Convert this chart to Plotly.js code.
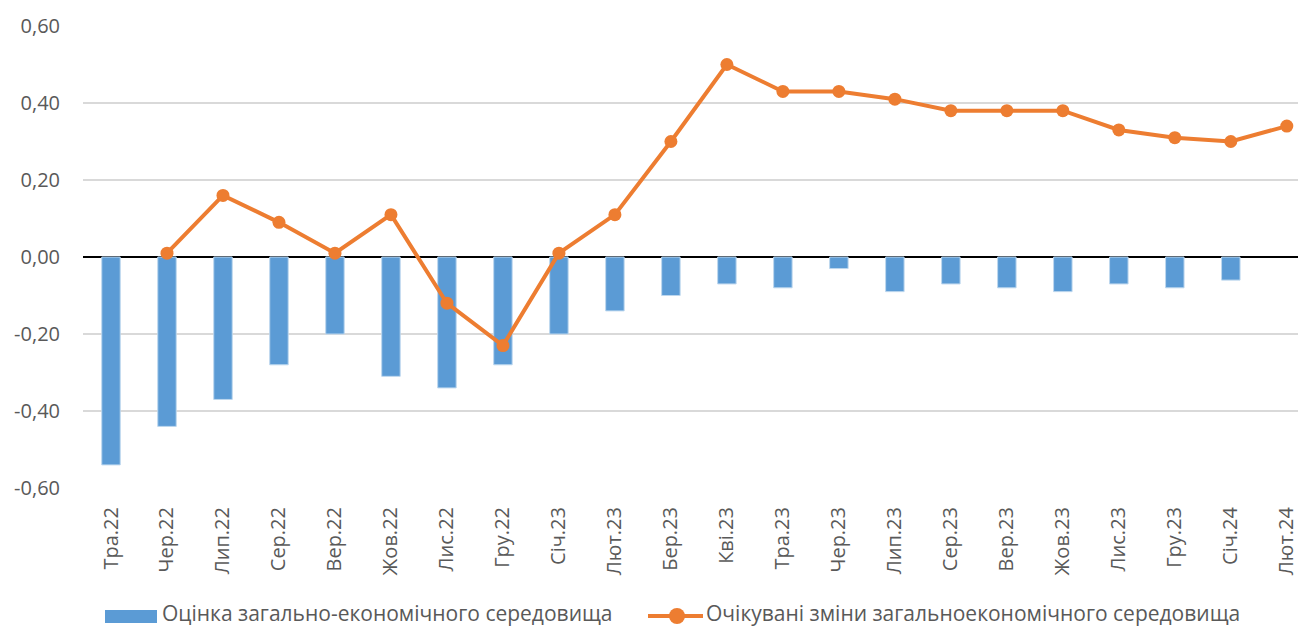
<!DOCTYPE html>
<html><head><meta charset="utf-8">
<script src="https://cdn.plot.ly/plotly-3.0.1.min.js"></script>
<style>body{margin:0;background:#fff}#c{width:1298px;height:628px}</style>
</head><body><div id="c"></div>
<script>
const categories = ["Тра.22","Чер.22","Лип.22","Сер.22","Вер.22","Жов.22","Лис.22","Гру.22","Січ.23","Лют.23","Бер.23","Кві.23","Тра.23","Чер.23","Лип.23","Сер.23","Вер.23","Жов.23","Лис.23","Гру.23","Січ.24","Лют.24"];
const assessment = [-0.54,-0.44,-0.37,-0.28,-0.20,-0.31,-0.34,-0.28,-0.20,-0.14,-0.10,-0.07,-0.08,-0.03,-0.09,-0.07,-0.08,-0.09,-0.07,-0.08,-0.06,null];
const expected = [null,0.01,0.16,0.09,0.01,0.11,-0.12,-0.23,0.01,0.11,0.30,0.50,0.43,0.43,0.41,0.38,0.38,0.38,0.33,0.31,0.30,0.34];
const yTicks = [-0.6,-0.4,-0.2,0,0.2,0.4,0.6];
const yTickLabels = ["-0,60","-0,40","-0,20","0,00","0,20","0,40","0,60"];
const names = ["Оцінка загально-економічного середовища","Очікувані зміни загальноекономічного середовища"];

const W = 1298, H = 628;
const mL = 83, mR = 0, mT = 26, mB = 140;
const plotH = H - mT - mB;
const ppx = x => (x - mL) / (W - mL - mR);
const ppy = y => (H - mB - y) / plotH;

const BLUE = "#5b9bd5", ORANGE = "#ed7d31", TXT = "#595959";

const traces = [
 {type:"bar", x:categories, y:assessment, name:names[0], width:0.33, showlegend:false,
  marker:{color:BLUE, line:{color:"#bdd7ee", width:1}}},
 {type:"scatter", mode:"lines+markers", x:categories, y:expected, name:names[1], connectgaps:true, showlegend:false,
  line:{color:ORANGE, width:4}, marker:{color:ORANGE, size:13}}
];

// custom legend (pixel layout)
const legY = 616, legTxtY = 613;
const shapes = [
 {type:"rect", xref:"paper", yref:"paper", x0:ppx(105), x1:ppx(157), y0:ppy(623), y1:ppy(610), fillcolor:BLUE, line:{width:0}},
 {type:"line", xref:"paper", yref:"paper", x0:ppx(648), x1:ppx(703), y0:ppy(legY), y1:ppy(legY), line:{color:ORANGE, width:4}},
 {type:"circle", xref:"paper", yref:"paper", x0:ppx(669), x1:ppx(685), y0:ppy(legY+8), y1:ppy(legY-8), fillcolor:ORANGE, line:{width:0}}
];
const annotations = [
 {xref:"paper", yref:"paper", x:ppx(160), y:ppy(legTxtY), xanchor:"left", yanchor:"middle", showarrow:false, text:names[0],
  font:{family:"Open Sans", size:21, color:TXT}},
 {xref:"paper", yref:"paper", x:ppx(704), y:ppy(legTxtY), xanchor:"left", yanchor:"middle", showarrow:false, text:names[1],
  font:{family:"Open Sans", size:21, color:TXT}}
];

const layout = {
 width:W, height:H,
 margin:{l:mL, r:mR, t:mT, b:mB},
 paper_bgcolor:"#fff", plot_bgcolor:"#fff",
 font:{family:"Open Sans", color:TXT, size:20},
 showlegend:false,
 shapes:shapes, annotations:annotations,
 xaxis:{type:"category", range:[-0.5, 21.2], tickangle:-90, showgrid:false, zeroline:false, automargin:false,
  showline:false, ticks:"", ticklabelstandoff:14, tickfont:{family:"Open Sans", size:20, color:TXT}},
 yaxis:{range:[-0.6,0.6], tickvals:yTicks, ticktext:yTickLabels, showgrid:true, gridcolor:"#d9d9d9", gridwidth:1.5, automargin:false,
  zeroline:true, zerolinecolor:"#000", zerolinewidth:1.5, ticks:"", ticklabelstandoff:22, tickfont:{family:"Open Sans", size:20, color:TXT}}
};
Plotly.newPlot("c", traces, layout, {displayModeBar:false});
</script></body></html>
